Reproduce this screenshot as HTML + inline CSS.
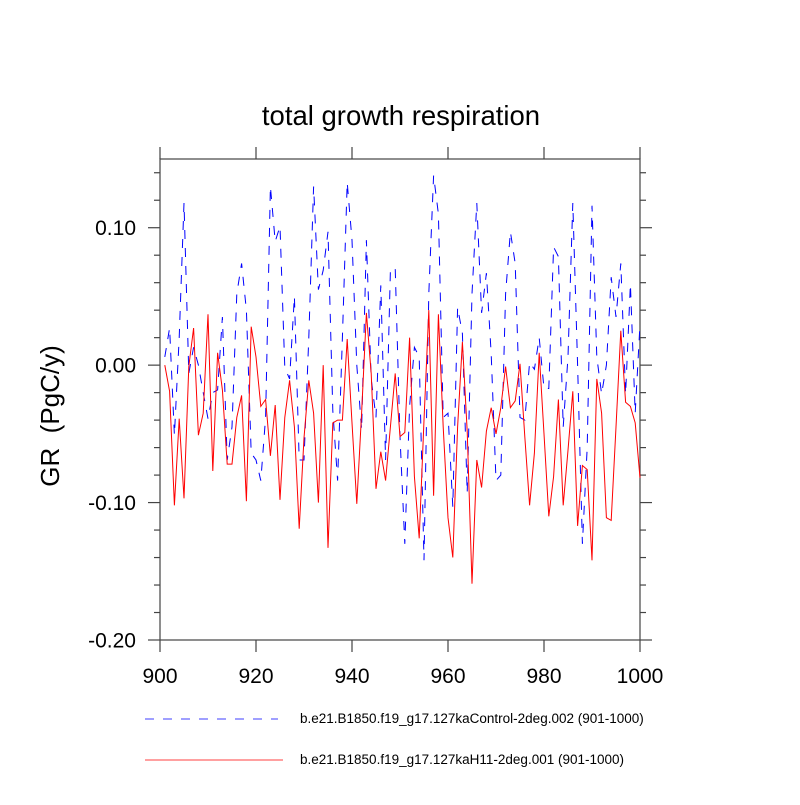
<!DOCTYPE html>
<html><head><meta charset="utf-8"><style>
html,body{margin:0;padding:0;background:#fff;}
svg text{font-family:"Liberation Sans",sans-serif;}
</style></head><body>
<svg id="chart" width="800" height="800" xmlns="http://www.w3.org/2000/svg">
<rect width="800" height="800" fill="#fff"/>
<text x="401" y="125" text-anchor="middle" font-size="27.5">total growth respiration</text>
<text transform="translate(59,416) rotate(-90)" text-anchor="middle" font-size="26" xml:space="preserve">GR  (PgC/y)</text>
<g id="axes"></g>
<g id="series"></g>
<g>
<line x1="145" y1="719" x2="278" y2="719" stroke="#00f" stroke-width="0.8" stroke-dasharray="9,9"/>
<text x="300" y="723" font-size="13.5">b.e21.B1850.f19_g17.127kaControl-2deg.002 (901-1000)</text>
<line x1="145" y1="760" x2="283" y2="760" stroke="#f00" stroke-width="0.8"/>
<text x="300" y="764" font-size="13.5">b.e21.B1850.f19_g17.127kaH11-2deg.001 (901-1000)</text>
</g>
</svg>
<script>
const years = Array.from({length:100},(_,i)=>901+i);
const controlValues = [0.006,0.027,-0.051,0.02,0.118,-0.006,0.013,0.0,-0.02,-0.039,-0.02,-0.018,0.035,-0.069,-0.045,0.052,0.074,0.04,-0.064,-0.069,-0.084,-0.038,0.130,0.090,0.101,-0.002,-0.010,0.050,-0.069,-0.069,0.02,0.130,0.055,
0.069,0.097,-0.033,-0.084,0.02,0.133,0.091,0.0,-0.047,0.091,-0.01,-0.038,0.058,-0.069,0.069,0.071,-0.052,-0.130,-0.03,0.013,0.006,-0.142,0.052,0.138,0.110,-0.038,-0.035,-0.103,0.042,0.023,-0.093,0.052,0.118,
0.038,0.067,0.008,-0.084,-0.080,0.052,0.097,0.074,-0.038,-0.040,0.002,-0.003,0.020,-0.017,-0.017,0.086,0.079,-0.045,0.006,0.118,0.0,-0.130,-0.06,0.116,0.006,-0.021,0.0,0.064,0.035,0.074,-0.021,0.059,-0.035,0.030];
const h11Values = [0.0,-0.019,-0.102,-0.039,-0.097,-0.001,0.027,-0.051,-0.035,0.037,-0.077,0.009,-0.018,-0.072,-0.072,-0.038,-0.022,-0.099,0.028,0.006,-0.030,-0.025,-0.066,-0.029,-0.098,-0.038,-0.011,-0.045,-0.119,-0.053,-0.011,-0.035,-0.100,
0.0,-0.133,-0.042,-0.040,-0.040,0.019,-0.042,-0.101,-0.035,0.038,-0.006,-0.090,-0.063,-0.084,-0.045,-0.006,-0.052,-0.049,0.020,-0.081,-0.126,-0.040,0.040,-0.095,0.037,-0.045,-0.111,-0.140,-0.045,0.017,-0.048,-0.159,-0.069,
-0.089,-0.048,-0.031,-0.050,-0.031,-0.001,-0.031,-0.026,0.001,-0.052,-0.102,-0.064,0.009,-0.050,-0.110,-0.081,-0.025,-0.102,-0.062,-0.019,-0.117,-0.073,-0.076,-0.142,-0.010,-0.035,-0.111,-0.113,-0.045,0.025,-0.027,-0.030,-0.042,-0.082];
const xTickLabels = ["900","920","940","960","980","1000"];
const yTickLabels = ["0.10","0.00","-0.10","-0.20"];

const L=160,R=640,T=159,B=640;
const xMin=900,xMax=1000,yMin=-0.2,yMax=0.15;
const xs=v=>L+(v-xMin)/(xMax-xMin)*(R-L);
const ys=v=>B-(v-yMin)/(yMax-yMin)*(B-T);
const NS="http://www.w3.org/2000/svg";
function mk(tag,attrs,parent){const e=document.createElementNS(NS,tag);for(const k in attrs)e.setAttribute(k,attrs[k]);parent.appendChild(e);return e;}
const ax=document.getElementById('axes');
const frame=mk('rect',{x:L,y:T,width:R-L,height:B-T,fill:'none',stroke:'#444','stroke-width':1.2},ax);


for(let v=xMin;v<=xMax;v+=20){
  const x=xs(v);
  const t1=mk('line',{x1:x,y1:B,x2:x,y2:B+12,stroke:'#444','stroke-width':1.2},ax);
  
  
  const t2=mk('line',{x1:x,y1:T,x2:x,y2:T-12,stroke:'#444','stroke-width':1.2},ax);
  
  
}
xTickLabels.forEach(s=>{
  const t=mk('text',{x:xs(+s),y:683,'text-anchor':'middle','font-size':21},ax); t.textContent=s;
  
  
});
for(let i=-10;i<=7;i++){
  const v=i*0.02; const y=ys(v); const major=(i%5===0); const len=major?12:6;
  const a=mk('line',{x1:L,y1:y,x2:L-len,y2:y,stroke:'#444','stroke-width':1.2},ax);
  
  
  const b=mk('line',{x1:R,y1:y,x2:R+len,y2:y,stroke:'#444','stroke-width':1.2},ax);
  
  
}
yTickLabels.forEach(s=>{
  const t=mk('text',{x:136,y:ys(+s)+7.5,'text-anchor':'end','font-size':21},ax); t.textContent=s;
  
  
});
const sg=document.getElementById('series');
function pts(vals){return vals.map((v,i)=>xs(years[i]).toFixed(1)+','+ys(v).toFixed(1)).join(' ');}
const c=mk('polyline',{points:pts(controlValues),fill:'none',stroke:'#00f','stroke-width':1,'stroke-dasharray':'9,9'},sg);


const h=mk('polyline',{points:pts(h11Values),fill:'none',stroke:'#f00','stroke-width':1},sg);


</script>
</body></html>
